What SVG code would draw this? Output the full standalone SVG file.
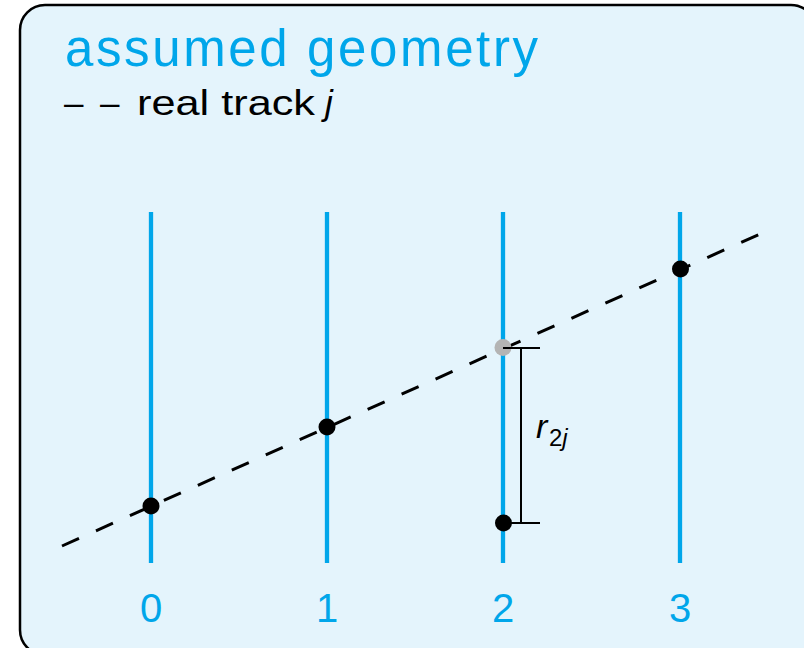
<svg xmlns="http://www.w3.org/2000/svg" width="804" height="648" viewBox="0 0 804 648">
<style>
.frame{fill:#e4f4fc;stroke:#000;stroke-width:2.5}
.det{stroke:#00a6ea;stroke-width:4.3;fill:none}
.lbl{font-family:"Liberation Sans",Arial,sans-serif;fill:#00a6ea}
.txt{font-family:"Liberation Sans",Arial,sans-serif;fill:#000}
.hit{fill:#000}
.track{stroke:#000;stroke-width:3;fill:none;stroke-dasharray:18.6 18.6}
.bar{stroke:#000;stroke-width:2;fill:none}
</style>
<rect class="frame" x="20" y="5" width="796" height="650" rx="25" ry="25"/>
<g id="title">
<text class="lbl" x="65" y="66" font-size="51" textLength="473" lengthAdjust="spacing">assumed geometry</text>
</g>
<g id="legend">
<text class="txt" y="115" font-size="35"><tspan x="64">–</tspan><tspan x="100">–</tspan><tspan x="137" textLength="178" lengthAdjust="spacingAndGlyphs">real track</tspan><tspan x="325" font-style="italic">j</tspan></text>
</g>
<g id="det0"><line class="det" x1="151" y1="212" x2="151" y2="563"/><text class="lbl" x="151" y="622" font-size="40" text-anchor="middle">0</text></g>
<g id="det1"><line class="det" x1="327" y1="212" x2="327" y2="563"/><text class="lbl" x="327" y="622" font-size="40" text-anchor="middle">1</text></g>
<g id="det2"><line class="det" x1="503" y1="212" x2="503" y2="563"/><text class="lbl" x="503" y="622" font-size="40" text-anchor="middle">2</text></g>
<g id="det3"><line class="det" x1="680" y1="212" x2="680" y2="563"/><text class="lbl" x="680" y="622" font-size="40" text-anchor="middle">3</text></g>
<g id="connectors">
<line class="track" x1="62" y1="546" x2="760" y2="234"/>
<circle cx="503" cy="347.5" r="8.5" fill="#b4b4b4"/>
<path class="bar" d="M503 348H540M521 348V523M503 523H540"/>
</g>
<g id="hits">
<circle class="hit" cx="151" cy="506" r="8.5"/>
<circle class="hit" cx="327" cy="427" r="8.5"/>
<circle class="hit" cx="680.5" cy="269" r="8.5"/>
<circle class="hit" cx="503.5" cy="523" r="8.5"/>
</g>
<g id="residual">
<text class="txt" x="536" y="438" font-size="34" font-style="italic">r<tspan x="549" font-size="24" font-style="normal" dy="8">2</tspan><tspan font-size="24" font-style="italic">j</tspan></text>
</g>
</svg>
